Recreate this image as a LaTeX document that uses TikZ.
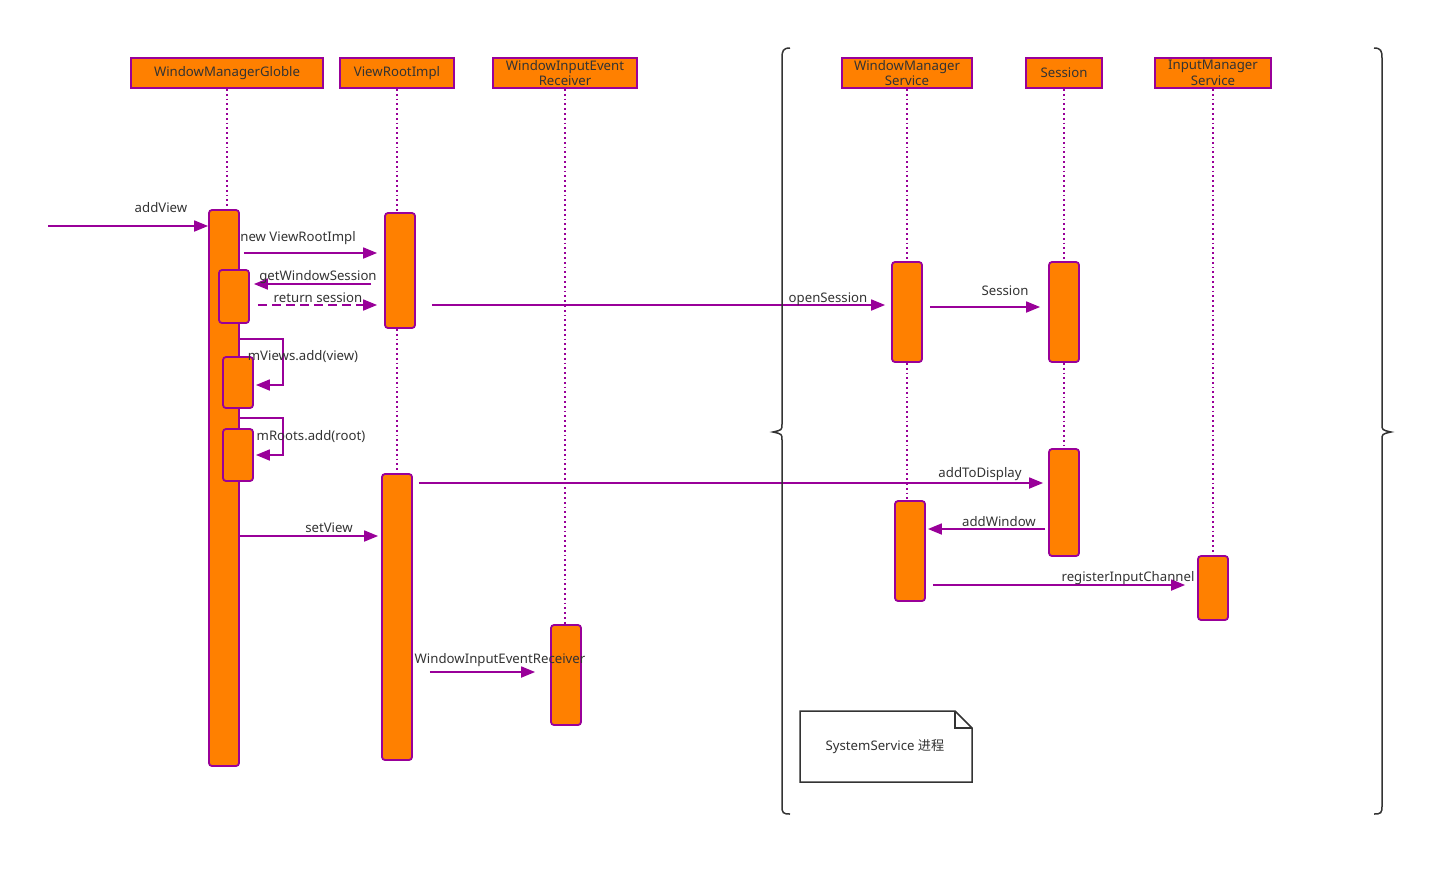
\documentclass[tikz,border=0pt]{standalone}
\usepackage{fontspec}
\setmainfont{Noto Sans}
\newfontfamily\cjk{Noto Sans CJK SC}
\usetikzlibrary{arrows.meta,shapes.geometric,calc}
\definecolor{org}{HTML}{FF8000}
\definecolor{pur}{HTML}{990099}
\definecolor{txt}{HTML}{333333}
\begin{document}
\begin{tikzpicture}[x=1pt,y=-1pt,
  font=\fontsize{13.2}{16}\selectfont, text=txt,
  head/.style={draw=pur,line width=2pt,fill=org,inner sep=0pt,minimum height=30pt,align=center,font=\fontsize{13.2}{15.5}\selectfont},
  act/.style={draw=pur,line width=1.8pt,fill=org,rounded corners=3pt,inner sep=0pt,minimum width=30pt},
  life/.style={draw=pur,line width=1.8pt,dash pattern=on 1.8pt off 3pt},
  msg/.style={draw=pur,line width=1.8pt,-{Triangle[length=14pt,width=11pt]}},
  lbl/.style={inner sep=0pt,anchor=base},
  brace/.style={draw=txt,line width=1.5pt}]
\useasboundingbox (0,0) rectangle (1453,876);
% headers
\node[head,minimum width=192pt] (hwmg) at (227,73) {WindowManagerGloble};
\node[head,minimum width=114pt] (hvri) at (397,73) {ViewRootImpl};
\node[head,minimum width=144pt] (hwie) at (565,73) {WindowInputEvent\\Receiver};
\node[head,minimum width=130pt] (hwms) at (907,73) {WindowManager\\Service};
\node[head,minimum width=76pt] (hses) at (1064,73) {Session};
\node[head,minimum width=116pt] (hims) at (1213,73) {InputManager\\Service};
% activations
\node[act,minimum height=556pt] (wmg0) at (224,488) {};
\node[act,minimum height=115pt] (vri1) at (400,270.5) {};
\node[act,minimum height=286pt] (vri2) at (397,617) {};
\node[act,minimum height=100pt] (wie) at (566,675) {};
\node[act,minimum height=100pt] (wms1) at (907,312) {};
\node[act,minimum height=100pt] (wms2) at (910,551) {};
\node[act,minimum height=100pt] (ses1) at (1064,312) {};
\node[act,minimum height=107pt] (ses2) at (1064,502.5) {};
\node[act,minimum height=64pt] (ims) at (1213,588) {};
\node[act,minimum height=53pt] (wmg1) at (234,296.5) {};
\node[act,minimum height=51pt] (wmg2) at (238,382.5) {};
\node[act,minimum height=52pt] (wmg3) at (238,455) {};
% lifelines
\draw[life] (hwmg.south) -- (hwmg.south |- wmg0.north);
\draw[life] (hvri.south) -- (hvri.south |- vri1.north);
\draw[life] (hvri.south |- vri1.south) -- (hvri.south |- vri2.north);
\draw[life] (hwie.south) -- (hwie.south |- wie.north);
\draw[life] (hwms.south) -- (hwms.south |- wms1.north);
\draw[life] (hwms.south |- wms1.south) -- (hwms.south |- wms2.north);
\draw[life] (hses.south) -- (hses.south |- ses1.north);
\draw[life] (hses.south |- ses1.south) -- (hses.south |- ses2.north);
\draw[life] (hims.south) -- (hims.south |- ims.north);
% messages
\coordinate (start) at (48,226);
\draw[msg] (start) -- (wmg0.west |- start);
\node[lbl] (laddview) at (161,212) {addView};
\draw[msg] ([xshift=4pt]wmg0.east |- 0,253) -- ([xshift=-7pt]vri1.west |- 0,253);
\node[lbl] (lnew) at (298,241) {new ViewRootImpl};
\draw[msg] ([xshift=-13pt]vri1.west |- 0,284) -- ([xshift=4pt]wmg1.east |- 0,284);
\node[lbl] (lgws) at (318,280) {getWindowSession};
\draw[msg,dashed,dash pattern=on 9pt off 5pt] ([xshift=8pt]wmg1.east |- 0,305) -- ([xshift=-7pt]vri1.west |- 0,305);
\node[lbl] (lret) at (318,302) {return session};
\draw[msg] ([xshift=16pt]vri1.east |- 0,305) -- ([xshift=-6pt]wms1.west |- 0,305);
\node[lbl] (lopen) at (828,302) {openSession};
\draw[msg] ([xshift=7pt]wms1.east |- 0,307) -- ([xshift=-8pt]ses1.west |- 0,307);
\node[lbl] (lses) at (1005,295) {Session};
\draw[msg] (wmg0.east |- 0,339) -- (283,339) -- (283,385) -- ([xshift=2pt]wmg2.east |- 0,385);
\node[lbl] (lmviews) at (303,360) {mViews.add(view)};
\draw[msg] (wmg0.east |- 0,418) -- (283,418) -- (283,455) -- ([xshift=2pt]wmg3.east |- 0,455);
\node[lbl] (lmroots) at (311,440) {mRoots.add(root)};
\draw[msg] ([xshift=6pt]vri2.east |- 0,483) -- ([xshift=-5pt]ses2.west |- 0,483);
\node[lbl] (ladd) at (980,477) {addToDisplay};
\draw[msg] ([xshift=-3pt]ses2.west |- 0,529) -- ([xshift=2pt]wms2.east |- 0,529);
\node[lbl] (laddw) at (999,526) {addWindow};
\draw[msg] (wmg0.east |- 0,536) -- ([xshift=-3pt]vri2.west |- 0,536);
\node[lbl] (lsetv) at (329,532) {setView};
\draw[msg] ([xshift=7pt]wms2.east |- 0,585) -- ([xshift=-12pt]ims.west |- 0,585);
\node[lbl] (lreg) at (1128,581) {registerInputChannel};
\draw[msg] ([xshift=17pt]vri2.east |- 0,672) -- ([xshift=-15pt]wie.west |- 0,672);
\node[lbl] (lwie) at (500,663) {WindowInputEventReceiver};
% braces
\draw[brace] (790,48) .. controls (783,48) and (782,51) .. (782,58) -- (782,424)
  .. controls (782,430) .. (773,432) .. controls (782,434) .. (782,440) -- (782,806)
  .. controls (782,813) and (783,814) .. (790,814);
\draw[brace] (1374,48) .. controls (1381,48) and (1382,51) .. (1382,58) -- (1382,424)
  .. controls (1382,430) .. (1391,432) .. controls (1382,434) .. (1382,440) -- (1382,806)
  .. controls (1382,813) and (1381,814) .. (1374,814);
% note
\draw[draw=txt,line width=1.5pt,fill=white] (800,711) -- (955,711) -- (972,728) -- (972,782) -- (800,782) -- cycle;
\draw[draw=txt,line width=1.5pt] (955,711) -- (955,728) -- (972,728);
\node[inner sep=0pt] (note) at (885,747) {SystemService {\cjk 进程}};
\end{tikzpicture}
\end{document}
